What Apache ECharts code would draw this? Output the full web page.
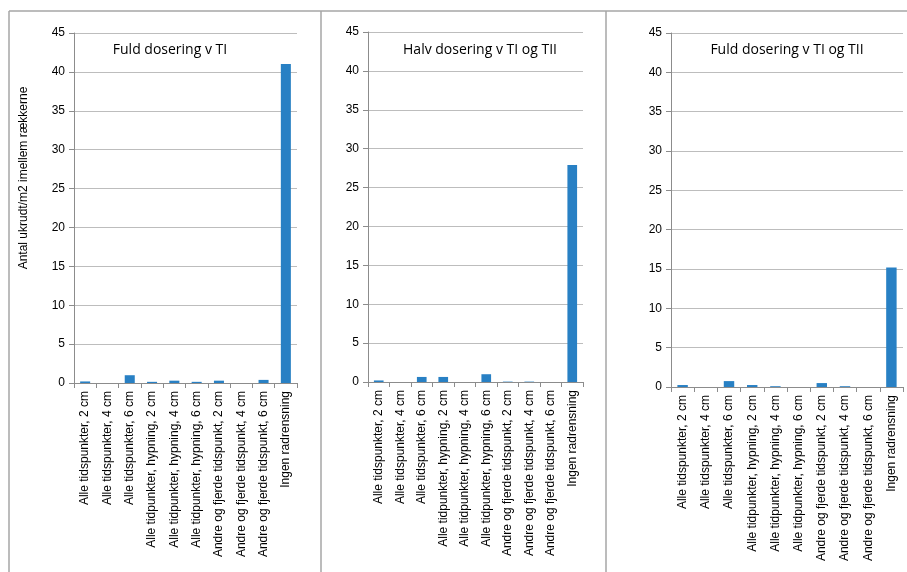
<!DOCTYPE html>
<html>
<head>
<meta charset="utf-8">
<script src="https://cdn.jsdelivr.net/npm/echarts@6/dist/echarts.min.js"></script>
<style>
html,body{margin:0;padding:0;background:#fff;}
#c{width:907px;height:572px;}
</style>
</head>
<body>
<div id="c"></div>
<script>
var categories = [
  "Alle tidspunkter, 2 cm",
  "Alle tidspunkter, 4 cm",
  "Alle tidspunkter, 6 cm",
  "Alle tidpunkter, hypning, 2 cm",
  "Alle tidpunkter, hypning, 4 cm",
  "Alle tidpunkter, hypning, 6 cm",
  "Andre og fjerde tidspunkt, 2 cm",
  "Andre og fjerde tidspunkt, 4 cm",
  "Andre og fjerde tidspunkt, 6 cm",
  "Ingen radrensning"
];
var categories2 = [
  "Alle tidspunkter, 2 cm",
  "Alle tidspunkter, 4 cm",
  "Alle tidspunkter, 6 cm",
  "Alle tidpunkter, hypning, 2 cm",
  "Alle tidpunkter, hypning, 4 cm",
  "Alle tidpunkter, hypning, 6 cm",
  "Andre og fjerde tidspunkt, 2 cm",
  "Andre og fjerde tidspunkt, 4 cm",
  "Andre og fjerde tidspunkt, 6 cm",
  "Ingen radrensning"
];
var categories3 = [
  "Alle tidspunkter, 2 cm",
  "Alle tidspunkter, 4 cm",
  "Alle tidspunkter, 6 cm",
  "Alle tidpunkter, hypning, 2 cm",
  "Alle tidpunkter, hypning, 4 cm",
  "Alle tidpunkter, hypning, 6 cm",
  "Andre og fjerde tidspunkt, 2 cm",
  "Andre og fjerde tidspunkt, 4 cm",
  "Andre og fjerde tidspunkt, 6 cm",
  "Ingen radrensning"
];
var fuldTI = [0.2, 0, 1.0, 0.15, 0.3, 0.15, 0.3, 0, 0.4, 41];
var halvTITII = [0.2, 0, 0.65, 0.65, 0, 1.0, 0.05, 0.05, 0, 27.9];
var fuldTITII = [0.25, 0, 0.75, 0.25, 0.1, 0, 0.5, 0.1, 0, 15.2];
var titles = ["Fuld dosering v TI", "Halv dosering v TI og TII", "Fuld dosering v TI og TII"];
var yTicks = [0, 5, 10, 15, 20, 25, 30, 35, 40, 45];
var yName = "Antal ukrudt/m2 imellem rækkerne";

var FONT = "'Liberation Sans', Arial, sans-serif";
var BAR = "#2880c4";
var grids = [
  {left: 74, right: 907 - 297, top: 33, bottom: 572 - 383},
  {left: 368, right: 907 - 583, top: 32, bottom: 572 - 382},
  {left: 671, right: 907 - 903, top: 33, bottom: 572 - 387}
];
var cats = [categories, categories2, categories3];
var data = [fuldTI, halvTITII, fuldTITII];
var titleX = [165, 475, 782];

var xAxes = [], yAxes = [], series = [], titleOpts = [];
for (var i = 0; i < 3; i++) {
  xAxes.push({
    type: 'category', gridIndex: i, data: cats[i],
    axisLine: {lineStyle: {color: '#8c8c8c', width: 1}},
    axisTick: {show: true, length: 5, lineStyle: {color: '#8c8c8c'}},
    axisLabel: {rotate: 90, interval: 0, margin: 8, color: '#000', fontSize: 12, fontFamily: FONT}
  });
  yAxes.push({
    type: 'value', gridIndex: i, min: yTicks[0], max: yTicks[yTicks.length - 1], interval: 5,
    axisLine: {show: true, lineStyle: {color: '#8c8c8c', width: 1}},
    axisTick: {show: true, length: 5, lineStyle: {color: '#8c8c8c'}},
    splitLine: {lineStyle: {color: '#bdbdbd', width: 1}},
    axisLabel: {color: '#000', fontSize: 12, fontFamily: FONT, margin: 9}
  });
  series.push({
    type: 'bar', xAxisIndex: i, yAxisIndex: i, data: data[i],
    barWidth: '45%', itemStyle: {color: BAR}, silent: true
  });
  titleOpts.push({
    text: titles[i], left: titleX[i], top: 38, textAlign: 'center',
    textStyle: {fontFamily: "'Open Sans', 'Noto Sans', sans-serif", fontSize: 14, fontWeight: 500, color: '#000'}
  });
}

var chart = echarts.init(document.getElementById('c'), null, {renderer: 'canvas'});
chart.setOption({
  animation: false,
  backgroundColor: '#fff',
  title: titleOpts,
  grid: grids,
  xAxis: xAxes,
  yAxis: yAxes,
  series: series,
  graphic: [
    {type: 'line', shape: {x1: 9, y1: 11, x2: 907, y2: 11}, style: {stroke: '#a6a6a6', lineWidth: 1.5}, silent: true},
    {type: 'line', shape: {x1: 9, y1: 11, x2: 9, y2: 572}, style: {stroke: '#a6a6a6', lineWidth: 1.5}, silent: true},
    {type: 'line', shape: {x1: 321, y1: 11, x2: 321, y2: 572}, style: {stroke: '#a6a6a6', lineWidth: 1.5}, silent: true},
    {type: 'line', shape: {x1: 606, y1: 11, x2: 606, y2: 572}, style: {stroke: '#a6a6a6', lineWidth: 1.5}, silent: true},
    {type: 'text', x: 24, y: 178, rotation: Math.PI / 2,
     style: {text: yName, fontFamily: FONT, fontSize: 12, fill: '#000', textAlign: 'center', textVerticalAlign: 'middle'}}
  ]
});
</script>
</body>
</html>
